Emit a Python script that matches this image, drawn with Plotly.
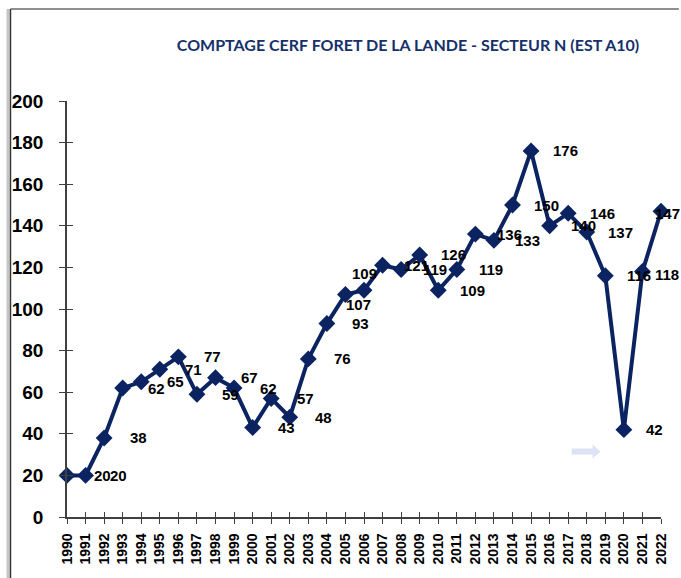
import plotly.graph_objects as go

# ---- data ----
years = list(range(1990, 2023))
counts = [20, 20, 38, 62, 65, 71, 77, 59, 67, 62, 43, 57, 48, 76, 93, 107, 109,
          121, 119, 126, 109, 119, 136, 133, 150, 176, 140, 146, 137, 116, 42, 118, 147]
title_text = "COMPTAGE CERF FORET DE LA LANDE - SECTEUR N (EST A10)"
y_ticks = [0, 20, 40, 60, 80, 100, 120, 140, 160, 180, 200]

# ---- style ----
W, H = 681, 578
ML, MR, MT, MB = 64, 18, 101, 61
NAVY = "#0b2360"
AXIS = "#404040"
NUM_FONT = "Liberation Sans, Arial, sans-serif"
label_offset_default = (34, 0)
label_offset_override = {1990: (35, 0), 1991: (33, 0), 2005: (13, -10), 2006: (0, 17),
                         2020: (31, 0), 2021: (25, -3), 2022: (6, -2)}

plot_w = W - ML - MR
plot_h = H - MT - MB


def px_x(px):
    return (px - ML) / plot_w


def px_y(py):
    return 1 - (py - MT) / plot_h


fig = go.Figure()

# invisible trace to carry the inner tick axes
fig.add_trace(go.Scatter(x=years, y=counts, xaxis="x2", yaxis="y2", mode="markers",
                         marker=dict(opacity=0), hoverinfo="skip", showlegend=False))

fig.add_trace(go.Scatter(
    x=years, y=counts, mode="lines+markers",
    line=dict(color=NAVY, width=4),
    marker=dict(symbol="diamond", size=13, color=NAVY),
    cliponaxis=False, showlegend=False,
))

for yr, v in zip(years, counts):
    dx, dy = label_offset_override.get(yr, label_offset_default)
    fig.add_annotation(x=yr, y=v, text=str(v), showarrow=False,
                       xshift=dx, yshift=dy,
                       font=dict(family=NUM_FONT, size=15, color="black", weight="bold"))

axis_common = dict(showgrid=False, zeroline=False, showline=True,
                   linecolor=AXIS, linewidth=1.5, tickcolor=AXIS, tickwidth=1.2)

fig.update_layout(
    width=W, height=H,
    margin=dict(l=ML, r=MR, t=MT, b=MB),
    paper_bgcolor="white", plot_bgcolor="white",
    title=dict(text=title_text, x=408 / W, xanchor="center", y=1 - 45 / H, yanchor="middle",
               font=dict(family="Lato, sans-serif", size=16, color="#16306a", weight="bold")),
    xaxis=dict(range=[1990, 2022], tickmode="array", tickvals=years,
               ticktext=[str(y) for y in years], tickangle=-90,
               ticks="outside", ticklen=5, ticklabelstandoff=4,
               tickfont=dict(family=NUM_FONT, size=14, color="black", weight="bold"),
               **axis_common),
    yaxis=dict(range=[0, 200], tickmode="array", tickvals=y_ticks,
               ticks="outside", ticklen=6, ticklabelstandoff=12,
               tickfont=dict(family=NUM_FONT, size=19, color="black", weight="bold"),
               **axis_common),
    xaxis2=dict(range=[1990, 2022], overlaying="x", anchor="y2", tickvals=years,
                ticks="inside", ticklen=5, showticklabels=False, **axis_common),
    yaxis2=dict(range=[0, 200], overlaying="y", anchor="x2", tickvals=y_ticks,
                ticks="inside", ticklen=6, showticklabels=False, **axis_common),
)

# frame lines of the original sheet
fig.add_shape(type="line", xref="paper", yref="paper",
              x0=px_x(7), x1=px_x(W), y0=px_y(9), y1=px_y(9),
              line=dict(color="#6a6a6a", width=1.5))
fig.add_shape(type="rect", xref="paper", yref="paper",
              x0=px_x(3), x1=px_x(6), y0=px_y(H), y1=px_y(9),
              line=dict(width=0), fillcolor="#c4c4c4")
fig.add_shape(type="line", xref="paper", yref="paper",
              x0=px_x(7), x1=px_x(7), y0=px_y(H), y1=px_y(9),
              line=dict(color="#333333", width=1.5))

# small block arrow
pts = [(573, 448.5), (594, 448.5), (594, 444.5), (602, 451.5), (594, 458.5), (594, 454.5), (573, 454.5)]
path = "M " + " L ".join(f"{px_x(a):.5f},{px_y(b):.5f}" for a, b in pts) + " Z"
fig.add_shape(type="path", xref="paper", yref="paper", path=path,
              fillcolor="#dde3f6", line=dict(width=0))

fig.write_html("out.html", config={"displayModeBar": False},
               post_script="document.body.style.margin='0';document.body.style.overflow='hidden';")
